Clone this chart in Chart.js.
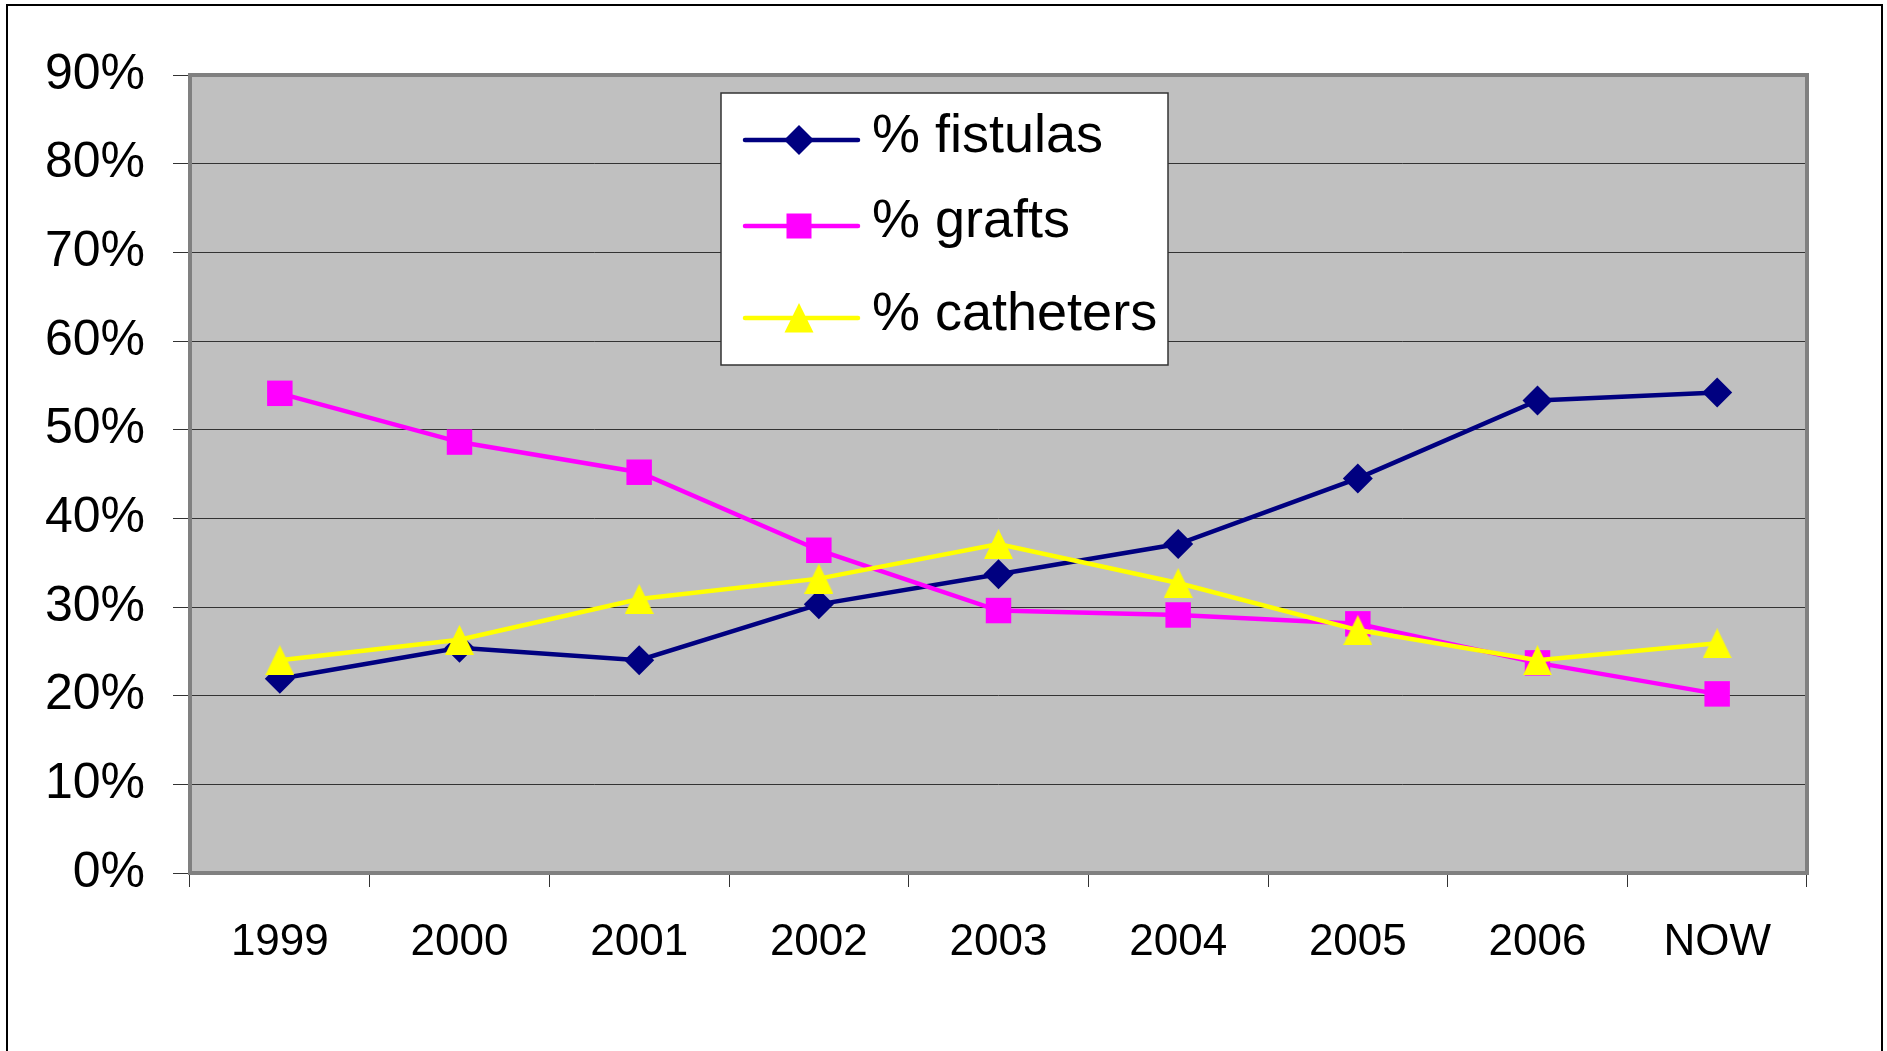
<!DOCTYPE html>
<html>
<head>
<meta charset="utf-8">
<script src="https://cdn.jsdelivr.net/npm/chart.js@4"></script>
<style>
html,body{margin:0;padding:0;background:#fff;overflow:hidden}
#wrap{width:1887px;height:1051px;position:relative}
canvas{display:block}
</style>
</head>
<body>
<div id="wrap"><canvas id="c" width="1887" height="1051"></canvas></div>
<script>
// ---- data ----
const categories = ['1999','2000','2001','2002','2003','2004','2005','2006','NOW'];
const fistulas  = [21.9, 25.4, 24.0, 30.3, 33.7, 37.1, 44.5, 53.3, 54.2];
const grafts    = [54.1, 48.6, 45.2, 36.4, 29.6, 29.1, 28.1, 23.7, 20.2];
const catheters = [24.0, 26.3, 30.9, 33.2, 37.1, 32.7, 27.4, 24.0, 25.9];
const seriesNames = ['% fistulas', '% grafts', '% catheters'];
const yTickLabels = ['0%','10%','20%','30%','40%','50%','60%','70%','80%','90%'];

// ---- styles ----
const FONT = '"Liberation Sans", Arial, sans-serif';
const NAVY = '#000080', MAGENTA = '#FF00FF', YELLOW = '#FFFF00';

function triangleImage(color) {
  const cv = document.createElement('canvas');
  cv.width = 29; cv.height = 30;
  const g = cv.getContext('2d');
  g.fillStyle = color;
  g.beginPath();
  g.moveTo(14.5, 0); g.lineTo(29, 30); g.lineTo(0, 30); g.closePath();
  g.fill();
  return cv;
}
const triImg = triangleImage(YELLOW);

const framePlugin = {
  id: 'frame',
  beforeDraw(chart) {
    const ctx = chart.ctx, a = chart.chartArea;
    ctx.save();
    ctx.fillStyle = '#ffffff';
    ctx.fillRect(0, 0, chart.width, chart.height);
    ctx.strokeStyle = '#000000';
    ctx.lineWidth = 2;
    ctx.strokeRect(7, 5, 1875, 1100);
    ctx.fillStyle = '#C0C0C0';
    ctx.fillRect(a.left, a.top, a.right - a.left, a.bottom - a.top);
    ctx.restore();
  },
  beforeDatasetsDraw(chart) {
    const ctx = chart.ctx, a = chart.chartArea;
    ctx.save();
    ctx.strokeStyle = '#808080';
    ctx.lineWidth = 4;
    ctx.strokeRect(a.left, a.top, a.right - a.left, a.bottom - a.top);
    ctx.restore();
  },
  afterDraw(chart) {
    const ctx = chart.ctx;
    ctx.save();
    // legend box
    ctx.fillStyle = '#ffffff';
    ctx.fillRect(721, 93, 447, 272);
    ctx.strokeStyle = '#333333';
    ctx.lineWidth = 1.5;
    ctx.strokeRect(721, 93, 447, 272);
    const rows = [140, 226, 318];
    const base = [152, 237, 330];
    const colors = [NAVY, MAGENTA, YELLOW];
    const mx = 799;
    chart.data.datasets.forEach((ds, i) => {
      const y = rows[i];
      ctx.strokeStyle = colors[i];
      ctx.lineWidth = 4.5;
      ctx.lineCap = 'round';
      ctx.beginPath();
      ctx.moveTo(745, y); ctx.lineTo(858, y);
      ctx.stroke();
      ctx.fillStyle = colors[i];
      ctx.beginPath();
      if (i === 0) {
        ctx.moveTo(mx, y - 15); ctx.lineTo(mx + 15, y); ctx.lineTo(mx, y + 15); ctx.lineTo(mx - 15, y);
        ctx.closePath(); ctx.fill();
      } else if (i === 1) {
        ctx.fillRect(mx - 12.5, y - 12.5, 25, 25);
      } else {
        ctx.moveTo(mx, y - 15); ctx.lineTo(mx + 14.5, y + 14.5); ctx.lineTo(mx - 14.5, y + 14.5);
        ctx.closePath(); ctx.fill();
      }
      ctx.fillStyle = '#000000';
      ctx.font = '54px ' + FONT;
      ctx.textBaseline = 'alphabetic';
      ctx.textAlign = 'left';
      ctx.fillText(ds.label, 872, base[i]);
    });
    ctx.restore();
  }
};

new Chart(document.getElementById('c'), {
  type: 'line',
  data: {
    labels: categories,
    datasets: [
      {
        label: seriesNames[0], data: fistulas, order: 3,
        borderColor: NAVY, backgroundColor: NAVY, borderWidth: 4.5,
        pointStyle: 'rectRot', pointRadius: 15, pointBorderWidth: 0,
        pointBackgroundColor: NAVY, pointBorderColor: NAVY, tension: 0
      },
      {
        label: seriesNames[1], data: grafts, order: 2,
        borderColor: MAGENTA, backgroundColor: MAGENTA, borderWidth: 4.5,
        pointStyle: 'rect', pointRadius: 18, pointBorderWidth: 0,
        pointBackgroundColor: MAGENTA, pointBorderColor: MAGENTA, tension: 0
      },
      {
        label: seriesNames[2], data: catheters, order: 1,
        borderColor: YELLOW, backgroundColor: YELLOW, borderWidth: 4.5,
        pointStyle: triImg, pointRadius: 15, pointBorderWidth: 0,
        pointBackgroundColor: YELLOW, pointBorderColor: YELLOW, tension: 0
      }
    ]
  },
  options: {
    responsive: false,
    animation: false,
    devicePixelRatio: 1,
    layout: { padding: { top: 75, right: 80, left: 0, bottom: 0 } },
    plugins: { legend: { display: false }, tooltip: { enabled: false }, title: { display: false } },
    events: [],
    scales: {
      x: {
        type: 'category',
        offset: true,
        grid: {
          offset: true, drawOnChartArea: false, drawTicks: true,
          tickLength: 14, color: '#333333', tickColor: '#333333', lineWidth: 1
        },
        border: { display: false },
        ticks: {
          font: { family: FONT, size: 44 }, color: '#000000',
          padding: 29, maxRotation: 0, autoSkip: false
        },
        afterFit(s) { s.height = 178; }
      },
      y: {
        min: 0, max: 90,
        grid: {
          color: '#333333', tickColor: '#333333', lineWidth: 1,
          drawTicks: true, tickLength: 17
        },
        border: { display: false },
        ticks: {
          stepSize: 10,
          font: { family: FONT, size: 50 }, color: '#000000', padding: 28,
          callback: (v) => yTickLabels[Math.round(v / 10)]
        },
        afterFit(s) { s.width = 190; }
      }
    }
  },
  plugins: [framePlugin]
});
</script>
</body>
</html>
